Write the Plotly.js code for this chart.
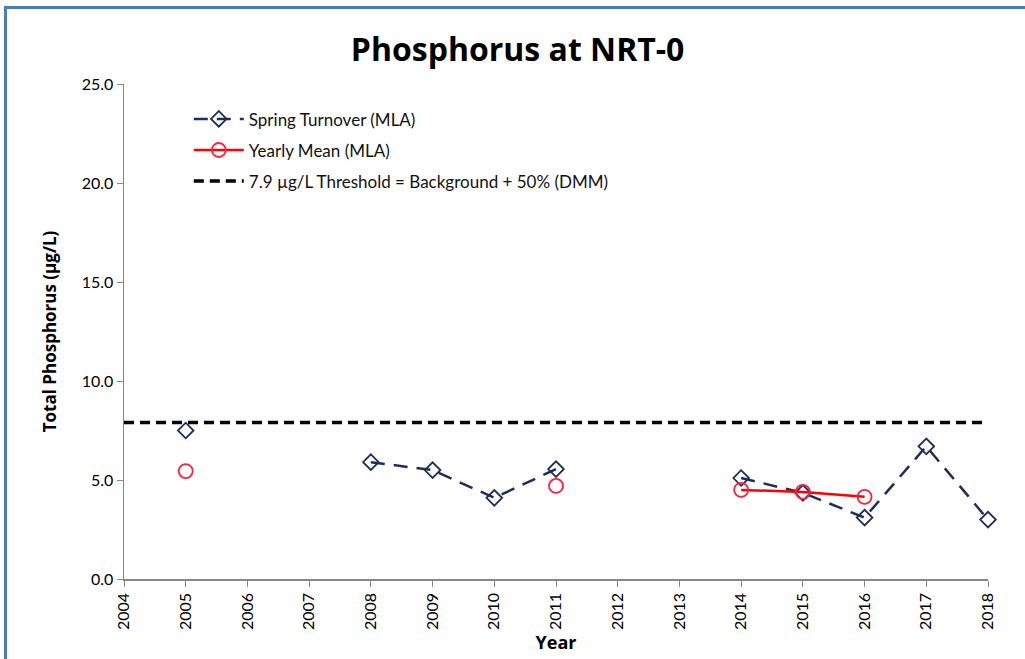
<!DOCTYPE html>
<html>
<head>
<meta charset="utf-8">
<script src="https://cdn.plot.ly/plotly-3.0.1.min.js"></script>
<style>
html,body{margin:0;padding:0;background:#fff;}
#frame{position:absolute;left:4px;top:6px;width:1030px;height:700px;border-left:3px solid #4a7ebb;border-top:3px solid #4a7ebb;pointer-events:none;z-index:5;}
#chart{width:1025px;height:659px;}
</style>
</head>
<body>
<div id="frame"></div>
<div id="chart"></div>
<script>
const years = [2005, 2006, 2007, 2008, 2009, 2010, 2011, 2012, 2013, 2014, 2015, 2016, 2017, 2018];
const springTurnover = [7.5, null, null, 5.9, 5.5, 4.1, 5.55, null, null, 5.1, 4.35, 3.1, 6.7, 3.0];
const yearlyMean = [5.45, null, null, null, null, null, 4.7, null, null, 4.5, 4.4, 4.15, null, null];
const thresholdYears = [2004, 2018];
const thresholdValue = [7.9, 7.9];
const tickYears = [2004, 2005, 2006, 2007, 2008, 2009, 2010, 2011, 2012, 2013, 2014, 2015, 2016, 2017, 2018];

const font = "Lato, 'Open Sans', sans-serif";
const boldFont = "'Liberation Sans Narrow', 'Open Sans', sans-serif";

const traces = [
  {
    x: years, y: springTurnover, name: 'Spring Turnover (MLA)', mode: 'lines+markers',
    connectgaps: false, cliponaxis: false, legendgroup: 'a',
    line: {color: '#1f2d5a', width: 2.5, dash: '14px,9px'},
    marker: {symbol: 'diamond-open', size: 12, color: '#1f2d5a', line: {width: 1.8}}
  },
  {
    x: years, y: yearlyMean, name: 'Yearly Mean (MLA)', mode: 'lines+markers',
    connectgaps: false, cliponaxis: false, legendgroup: 'b',
    line: {color: '#ff0000', width: 2.5},
    marker: {symbol: 'circle-open', size: 14, color: '#ff2040', line: {width: 1.8}}
  },
  {
    x: thresholdYears, y: thresholdValue, name: '7.9 µg/L Threshold = Background + 50% (DMM)', mode: 'lines',
    legendgroup: 'c',
    line: {color: '#000000', width: 3.5, dash: '10px,6px'}
  }
];

const layout = {
  width: 1025, height: 659,
  margin: {l: 124, r: 37, t: 84, b: 80},
  paper_bgcolor: '#ffffff', plot_bgcolor: '#ffffff',
  title: {text: '<b>Phosphorus at NRT-0</b>', x: 0.505, xanchor: 'center', y: 0.925, yanchor: 'middle',
          font: {family: boldFont, size: 32, color: '#000'}},
  showlegend: true,
  legend: {x: 0.075, y: 0.965, xanchor: 'left', yanchor: 'top', bgcolor: 'rgba(0,0,0,0)',
           font: {family: font, size: 17, color: '#111'}, tracegroupgap: 6, itemwidth: 50},
  xaxis: {
    range: [2004, 2018], tickmode: 'array', tickvals: tickYears, ticktext: tickYears.map(String),
    tickangle: -90, ticks: 'outside', ticklen: 6, tickcolor: '#868686', showgrid: false, zeroline: false,
    showline: true, linecolor: '#868686', linewidth: 1.5,
    tickfont: {family: font, size: 16, color: '#000'},
    title: {text: '<b>Year</b>', standoff: 4, font: {family: boldFont, size: 18, color: '#000'}}
  },
  yaxis: {
    range: [0, 25], tickvals: [0, 5, 10, 15, 20, 25], tickformat: '.1f',
    ticks: 'outside', ticklen: 6, tickcolor: '#868686', showgrid: false, zeroline: false,
    showline: true, linecolor: '#868686', linewidth: 1.5,
    tickfont: {family: font, size: 16, color: '#000'},
    title: {text: '<b>Total Phosphorus (µg/L)</b>', standoff: 20, font: {family: boldFont, size: 17, color: '#000'}}
  }
};

Plotly.newPlot('chart', traces, layout, {displayModeBar: false, staticPlot: true});
</script>
</body>
</html>
